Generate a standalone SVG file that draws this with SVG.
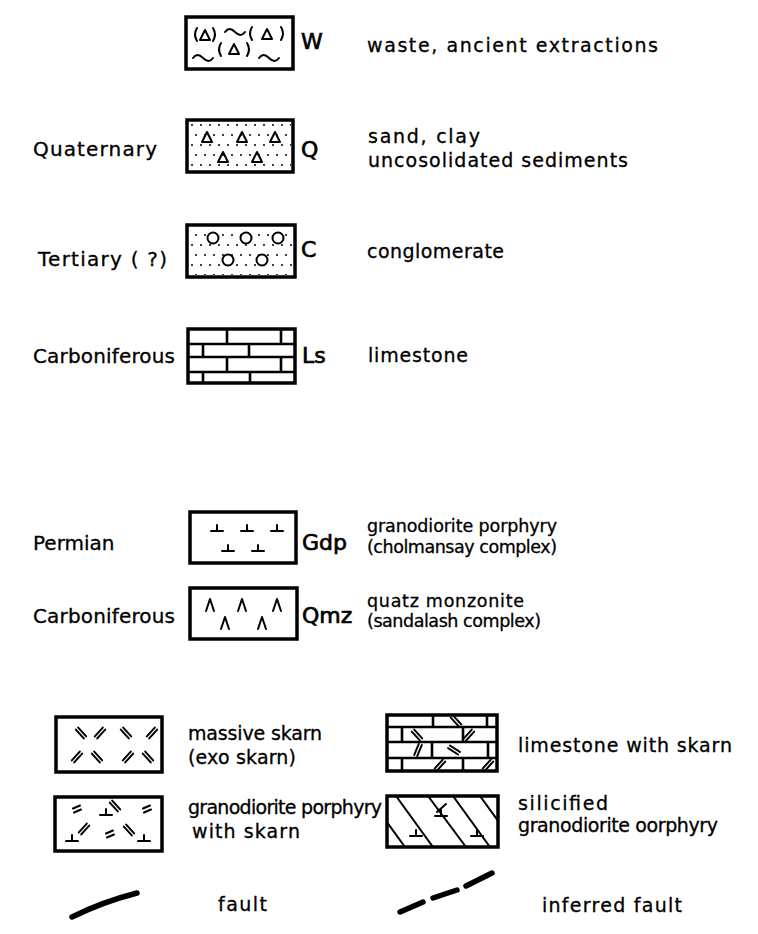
<svg xmlns="http://www.w3.org/2000/svg" width="758" height="934" viewBox="0 0 758 934">
<style>
.box{fill:#fff;stroke:#000;stroke-width:3.5}
.pat{fill:none;stroke:#000;stroke-width:2;stroke-linecap:round;stroke-linejoin:round}
.brick{fill:none;stroke:#000;stroke-width:2.6}
.lbl{font-family:"DejaVu Sans","Liberation Sans",sans-serif;font-size:20px;fill:#000;stroke:#000;stroke-width:0.3}
.sym{font-family:"DejaVu Sans","Liberation Sans",sans-serif;font-size:22px;fill:#000;stroke:#000;stroke-width:0.7}
.desc{font-family:"DejaVu Sans","Liberation Sans",sans-serif;font-size:19px;fill:#000;stroke:#000;stroke-width:0.3}
.desc2{font-family:"DejaVu Sans","Liberation Sans",sans-serif;font-size:17.5px;fill:#000;stroke:#000;stroke-width:0.3}
.fault{fill:none;stroke:#000;stroke-width:5.5;stroke-linecap:round}
</style>
<defs>
<pattern id="dots" width="18" height="20" patternUnits="userSpaceOnUse">
<circle cx="3" cy="5" r="1"/><circle cx="12" cy="5" r="1"/><circle cx="7" cy="15" r="1"/><circle cx="16" cy="15" r="1"/>
</pattern>
<path id="tri" d="M-5,5 L0,-5 L5,5 Z"/>
<path id="tee" d="M-6,0 H6 M0,0 V-6"/>
<path id="wedge" d="M-4,6 L0,-6 L4,6"/>
<path id="bs" d="M-5.2,-3.4 L2.8,5.4 M-2.8,-5.4 L5.2,3.4"/>
<path id="fs" d="M-5.2,3.4 L2.8,-5.4 M-2.8,5.4 L5.2,-3.4"/>
<path id="eq" d="M-4,-0.5 L3,-3.5 M-3,3.5 L4,0.5"/>
<path id="tilde" d="M0,0 c3,-4 6,-4 10,0 s7,4 10,0"/>
<clipPath id="clipSil"><rect x="387" y="796" width="111" height="51"/></clipPath>
</defs>

<g id="W">
<rect class="box" x="186" y="17" width="107" height="52"/>
<g class="pat">
<path d="M197,28 q-4,6.5 0,13 M213,28 q4,6.5 0,13"/>
<use href="#tri" x="205" y="35"/>
<use href="#tilde" x="225" y="32"/>
<path d="M252,27 q-4,6.5 0,13 M281,27 q4,6.5 0,13"/>
<use href="#tri" x="267" y="34"/>
<path d="M221,43 q-4,6.5 0,13 M247,43 q4,6.5 0,13"/>
<use href="#tri" x="234" y="49"/>
<use href="#tilde" x="193" y="58"/>
<use href="#tilde" x="259" y="58"/>
</g>
<text class="sym" x="301" y="49">W</text>
<text class="desc" x="367" y="52" textLength="291" lengthAdjust="spacing">waste, ancient extractions</text>
</g>

<g id="Q">
<rect class="box" x="187" y="120" width="106" height="52"/>
<rect x="189" y="122" width="102" height="48" fill="url(#dots)"/>
<g class="pat">
<use href="#tri" x="207" y="137"/><use href="#tri" x="242" y="137"/><use href="#tri" x="275" y="137"/>
<use href="#tri" x="223" y="157"/><use href="#tri" x="257" y="157"/>
</g>
<text class="lbl" x="33" y="156" textLength="124" lengthAdjust="spacing">Quaternary</text>
<text class="sym" x="301" y="157">Q</text>
<text class="desc" x="368" y="143" textLength="112" lengthAdjust="spacing">sand, clay</text>
<text class="desc" x="368" y="167" textLength="260" lengthAdjust="spacing">uncosolidated sediments</text>
</g>

<g id="C">
<rect class="box" x="187" y="225" width="108" height="52"/>
<rect x="189" y="227" width="104" height="48" fill="url(#dots)"/>
<g class="pat">
<circle cx="213" cy="238" r="5.5" fill="#fff"/><circle cx="246" cy="238" r="5.5" fill="#fff"/><circle cx="278" cy="238" r="5.5" fill="#fff"/>
<circle cx="228" cy="260" r="5.5" fill="#fff"/><circle cx="262" cy="260" r="5.5" fill="#fff"/>
</g>
<text class="lbl" x="38" y="266" textLength="129" lengthAdjust="spacing">Tertiary ( ?)</text>
<text class="sym" x="301" y="257">C</text>
<text class="desc" x="367" y="258" textLength="137" lengthAdjust="spacing">conglomerate</text>
</g>

<g id="Ls">
<rect class="box" x="188" y="329" width="107" height="54"/>
<path class="brick" d="M188,344 H295 M188,357 H295 M188,372 H295 M227,329 V344 M281,329 V344 M203,344 V357 M249,344 V357 M227,357 V372 M281,357 V372 M203,372 V383 M250,372 V383"/>
<text class="lbl" x="33" y="363" textLength="142" lengthAdjust="spacing">Carboniferous</text>
<text class="sym" x="302" y="363">Ls</text>
<text class="desc" x="368" y="362" textLength="100" lengthAdjust="spacing">limestone</text>
</g>

<g id="Gdp">
<rect class="box" x="190" y="512" width="106" height="51"/>
<g class="pat">
<use href="#tee" x="217" y="531"/><use href="#tee" x="247" y="531"/><use href="#tee" x="277" y="531"/>
<use href="#tee" x="228" y="551"/><use href="#tee" x="258" y="551"/>
</g>
<text class="lbl" x="33" y="550">Permian</text>
<text class="sym" x="302" y="550">Gdp</text>
<text class="desc2" x="367" y="532" textLength="190" lengthAdjust="spacing">granodiorite porphyry</text>
<text class="desc2" x="367" y="553" textLength="190" lengthAdjust="spacing">(cholmansay complex)</text>
</g>

<g id="Qmz">
<rect class="box" x="190" y="588" width="107" height="51"/>
<g class="pat">
<use href="#wedge" x="210" y="605"/><use href="#wedge" x="242" y="605"/><use href="#wedge" x="277" y="605"/>
<use href="#wedge" x="225" y="623"/><use href="#wedge" x="262" y="623"/>
</g>
<text class="lbl" x="33" y="623" textLength="142" lengthAdjust="spacing">Carboniferous</text>
<text class="sym" x="302" y="623">Qmz</text>
<text class="desc2" x="367" y="607" textLength="157" lengthAdjust="spacing">quatz monzonite</text>
<text class="desc2" x="367" y="627" textLength="174" lengthAdjust="spacing">(sandalash complex)</text>
</g>

<g id="massive-skarn">
<rect class="box" x="56" y="717" width="106" height="55"/>
<g class="pat">
<use href="#bs" x="81" y="733"/><use href="#fs" x="100" y="733"/><use href="#bs" x="126" y="733"/><use href="#fs" x="152" y="733"/>
<use href="#fs" x="77" y="757"/><use href="#bs" x="97" y="757"/><use href="#fs" x="128" y="757"/><use href="#bs" x="148" y="757"/>
</g>
<text class="desc" x="188" y="740" textLength="134" lengthAdjust="spacing">massive skarn</text>
<text class="desc" x="188" y="764" textLength="108" lengthAdjust="spacing">(exo skarn)</text>
</g>

<g id="gdp-skarn">
<rect class="box" x="55" y="797" width="107" height="54"/>
<g class="pat">
<use href="#eq" x="77" y="809"/>
<use href="#tee" x="106" y="815"/><use href="#bs" x="115" y="806"/>
<use href="#eq" x="147" y="809"/>
<use href="#tee" x="72" y="841"/><use href="#fs" x="84" y="829"/>
<use href="#eq" x="110" y="834"/>
<use href="#bs" x="129" y="830"/><use href="#tee" x="144" y="841"/>
</g>
<text class="desc" x="188" y="814" textLength="194" lengthAdjust="spacing">granodiorite porphyry</text>
<text class="desc" x="192" y="838" textLength="108" lengthAdjust="spacing">with skarn</text>
</g>

<g id="limestone-skarn">
<rect class="box" x="387" y="715" width="110" height="56"/>
<path class="brick" d="M387,727 H497 M387,742 H497 M387,758 H497 M433,715 V727 M487,715 V727 M402,727 V742 M463,727 V742 M432,742 V758 M488,742 V758 M402,758 V771 M463,758 V771"/>
<g class="pat">
<use href="#bs" x="456" y="721"/>
<use href="#bs" x="417" y="735"/><use href="#fs" x="469" y="735"/>
<use href="#fs" x="418" y="750" transform="rotate(-20 418 750)"/><use href="#bs" x="454" y="750" transform="rotate(-15 454 750)"/>
<use href="#fs" x="440" y="765"/><use href="#fs" x="488" y="765"/>
</g>
<text class="desc" x="518" y="752" textLength="214" lengthAdjust="spacing">limestone with skarn</text>
</g>

<g id="silicified">
<rect class="box" x="387" y="796" width="111" height="51"/>
<g clip-path="url(#clipSil)">
<path class="pat" d="M368,796 L405,847 M396,796 L433,847 M428,796 L466,847 M453,796 L490,847 M480,796 L517,847"/>
</g>
<g class="pat">
<use href="#tee" x="416" y="836"/><use href="#tee" x="477" y="836"/>
<use href="#tee" x="441" y="816"/><path d="M437,812 L446,804"/>
</g>
<text class="desc" x="518" y="810" textLength="90" lengthAdjust="spacing">silicified</text>
<text class="desc" x="518" y="832" textLength="200" lengthAdjust="spacing">granodiorite oorphyry</text>
</g>

<g id="connectors">
<g id="fault">
<path class="fault" d="M72,917 Q102,902 137,893"/>
<text class="desc" x="218" y="911" textLength="49" lengthAdjust="spacing">fault</text>
</g>
<g id="inferred-fault">
<path class="fault" d="M400,912 L423,902 M433,898 L457,890 M466,886 L492,873"/>
<text class="desc" x="542" y="912" textLength="140" lengthAdjust="spacing">inferred fault</text>
</g>
</g>
</svg>
